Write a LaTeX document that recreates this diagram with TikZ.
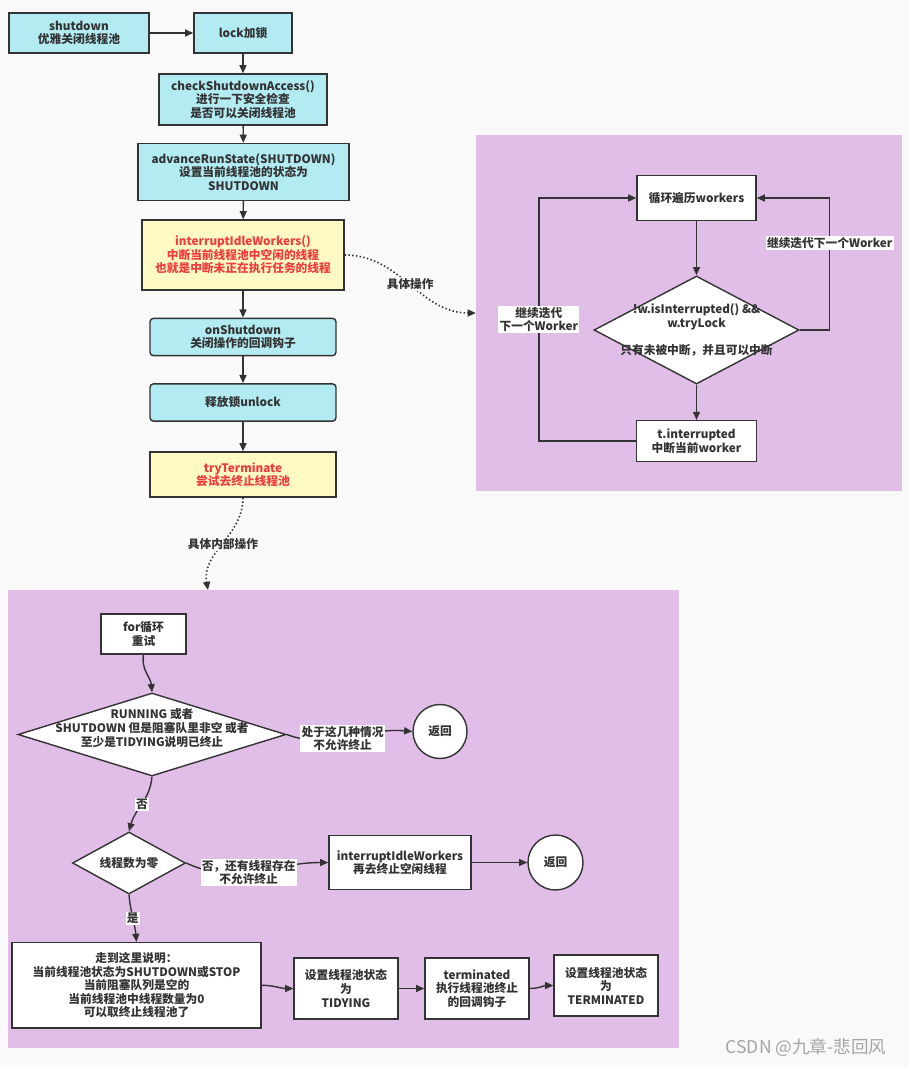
\documentclass[tikz,border=0pt]{standalone}
\usepackage{fontspec}
\setmainfont{Noto Sans CJK SC}
\usetikzlibrary{shapes.geometric,arrows.meta}
\definecolor{bgcol}{RGB}{249,249,249}
\definecolor{cyanbox}{RGB}{178,235,242}
\definecolor{yelbox}{RGB}{255,249,196}
\definecolor{purpanel}{RGB}{225,190,231}
\definecolor{linecol}{RGB}{51,51,51}
\definecolor{redtxt}{RGB}{240,60,60}
\definecolor{marktxt}{RGB}{165,165,165}
\begin{document}
\begin{tikzpicture}[x=0.03cm, y=-0.03cm,
  every node/.style={font=\bfseries\fontsize{10}{11.6}\selectfont, text=linecol, align=center},
  cbox/.style={draw=linecol, line width=1.2pt, fill=cyanbox, inner sep=0pt},
  ybox/.style={draw=linecol, line width=1.2pt, fill=yelbox, text=redtxt, inner sep=0pt},
  wbox/.style={draw=linecol, line width=1.2pt, fill=white, inner sep=0pt},
  dia/.style={draw=linecol, line width=1.2pt, fill=white, diamond, inner sep=0pt},
  ret/.style={draw=linecol, line width=1.2pt, fill=white, circle, inner sep=0pt},
  panel/.style={fill=purpanel, inner sep=0pt},
  lbl/.style={fill=white, inner sep=1pt},
  arr/.style={-{Triangle[length=7pt,width=6pt]}, draw=linecol, line width=1.2pt},
  dots/.style={arr, dotted, line width=1.4pt}
]
\fill[bgcol] (0,0) rectangle (909,1067);
\useasboundingbox (0,0) rectangle (909,1067);

% main chain
\node[cbox, minimum width=4.2cm, minimum height=1.2cm] (shut) at (79,33) {shutdown\\优雅关闭线程池};
\node[cbox, minimum width=2.94cm, minimum height=1.2cm] (lock) at (243,33) {lock加锁};
\node[cbox, minimum width=5.04cm, minimum height=1.53cm] (check) at (243,99.5) {checkShutdownAccess()\\进行一下安全检查\\是否可以关闭线程池};
\node[cbox, minimum width=6.33cm, minimum height=1.71cm] (adv) at (243.5,172) {advanceRunState(SHUTDOWN)\\设置当前线程池的状态为\\SHUTDOWN};
\node[ybox, minimum width=6.06cm, minimum height=2.1cm] (intr) at (243,255) {interruptIdleWorkers()\\中断当前线程池中空闲的线程\\也就是中断未正在执行任务的线程};
\node[cbox, rounded corners=3pt, minimum width=5.58cm, minimum height=1.12cm] (onsh) at (243,337) {onShutdown\\关闭操作的回调钩子};
\node[cbox, rounded corners=3pt, minimum width=5.58cm, minimum height=1.12cm] (unl) at (243,402.5) {释放锁unlock};
\node[ybox, minimum width=5.58cm, minimum height=1.35cm] (tryt) at (243,474.5) {tryTerminate\\尝试去终止线程池};

\draw[arr] (shut) -- (lock);
\draw[arr] (lock) -- (check);
\draw[arr] (check) -- (adv);
\draw[arr] (adv) -- (intr);
\draw[arr] (intr) -- (onsh);
\draw[arr] (onsh) -- (unl);
\draw[arr] (unl) -- (tryt);

% interruptIdleWorkers in detail
\node[panel, minimum width=12.78cm, minimum height=10.68cm] (opsp) at (689,313) {};
\node[wbox, minimum width=3.57cm, minimum height=1.35cm] (loop) at (696.5,198) {循环遍历workers};
\node[dia, minimum width=6.15cm, minimum height=3.24cm] (cond) at (696.5,330) {};
\node (condt) at (696.5,330) {!w.isInterrupted() \&\&\\w.tryLock\\[11.6pt]只有未被中断，并且可以中断};
\node[wbox, minimum width=3.6cm, minimum height=1.22cm] (tint) at (696.5,441) {t.interrupted\\中断当前worker};

\draw[arr] (loop) -- (cond);
\draw[arr] (cond) -- (tint);
\draw[arr] (cond.east) -- ++(30,0) |- node[lbl, pos=0.33] {继续迭代下一个Worker} (loop.east);
\draw[arr] (tint.west) -- ++(-97,0) |- node[lbl, pos=0.25] {继续迭代\\下一个Worker} (loop.west);

\draw[dots] (intr.east) to[out=0, in=180] node[fill=bgcol, inner sep=1pt] (opsl) {具体操作} (opsp.west);

% tryTerminate in detail
\node[panel, minimum width=20.13cm, minimum height=13.74cm] (trysp) at (343.5,819) {};
\coordinate (tpin) at (208,590);
\draw[dots] (tryt.south) to[out=-90, in=100] node[fill=bgcol, inner sep=1pt] (tryl) {具体内部操作} (tpin);

\node[wbox, minimum width=2.55cm, minimum height=1.2cm] (forb) at (143.5,634) {for循环\\重试};
\node[dia, minimum width=8.04cm, minimum height=2.49cm] (d1) at (152,734.5) {};
\node (d1t) at (152,728) {RUNNING 或者\\SHUTDOWN 但是阻塞队里非空 或者\\至少是TIDYING说明已终止};
\node[ret, minimum size=1.62cm] (ret1) at (440,731.5) {返回};
\node[dia, minimum width=3.39cm, minimum height=1.86cm] (d2) at (129,863) {};
\node (d2t) at (129,863) {线程数为零};
\node[wbox, minimum width=4.26cm, minimum height=1.62cm] (intr2) at (400,862.5) {interruptIdleWorkers\\再去终止空闲线程};
\node[ret, minimum size=1.65cm] (ret2) at (555.5,862.5) {返回};
\node[wbox, minimum width=7.47cm, minimum height=2.56cm] (bigb) at (136.5,985.3) {走到这里说明：\\当前线程池状态为SHUTDOWN或STOP\\当前阻塞队列是空的\\当前线程池中线程数量为0\\可以取终止线程池了};
\node[wbox, minimum width=3.12cm, minimum height=1.83cm] (tid) at (346,988.5) {设置线程池状态\\为\\TIDYING};
\node[wbox, minimum width=3.12cm, minimum height=1.83cm] (term) at (477,988.5) {terminated\\执行线程池终止\\的回调钩子};
\node[wbox, minimum width=3.12cm, minimum height=1.83cm] (termd) at (606,985.5) {设置线程池状态\\为\\TERMINATED};

\draw[arr] (forb.south) to[out=-100, in=95] (d1.north);
\draw[arr] (d1.east) to[out=-20, in=175] node[lbl, pos=0.45] {处于这几种情况\\不允许终止} (ret1.west);
\draw[arr] (d1.south) to[out=-95, in=75] node[lbl] {否} (d2.north);
\draw[arr] (d2.east) to[out=-25, in=180] node[lbl, pos=0.45] {否，还有线程存在\\不允许终止} (intr2.west);
\draw[arr] (intr2) -- (ret2);
\draw[arr] (d2.south) to[out=-85, in=95] node[lbl] {是} (bigb.north);
\draw[arr] (bigb.east) to[out=0, in=180] (tid.west);
\draw[arr] (tid.east) to[out=0, in=180] (term.west);
\draw[arr] (term.east) to[out=0, in=180] (termd.west);

\node[font=\fontsize{15}{17}\selectfont, text=marktxt] (mark) at (806,1048) {CSDN @九章-悲回风};
\end{tikzpicture}
\end{document}
